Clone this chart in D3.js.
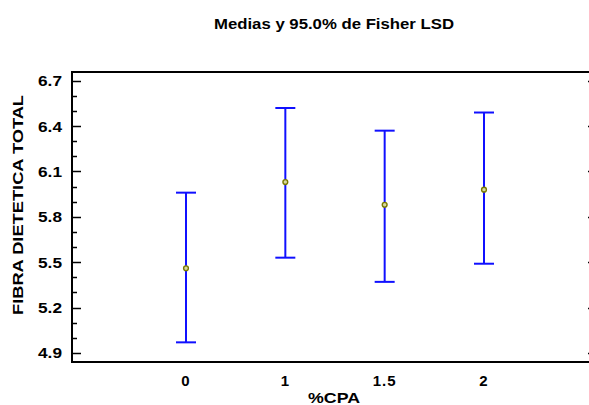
<!DOCTYPE html>
<html>
<head>
<meta charset="utf-8">
<script src="https://cdn.jsdelivr.net/npm/d3@7"></script>
<style>
  body { margin: 0; background: #fff; }
  text { font-family: "Liberation Sans", Arial, sans-serif; font-weight: bold; fill: #000; }
</style>
</head>
<body>
<svg width="589" height="405"></svg>
<script>
// data
var categories = ["0", "1", "1.5", "2"];
var means = [5.46, 6.03, 5.88, 5.98];
var lower = [4.97, 5.53, 5.37, 5.49];
var upper = [5.96, 6.52, 6.37, 6.49];
var yTicks = [4.9, 5.2, 5.5, 5.8, 6.1, 6.4, 6.7];

const svg = d3.select('svg');

var plotLeft = 72, plotRight = 597, plotTop = 72, plotBottom = 362;

var x = d3.scalePoint()
    .domain(categories)
    .range([186, 484]);

var y = d3.scaleLinear()
    .domain([4.84, 6.758])
    .range([plotBottom, plotTop]);

// title
svg.append("text")
    .attr("x", 334)
    .attr("y", 29)
    .attr("text-anchor", "middle")
    .attr("textLength", 240)
    .attr("lengthAdjust", "spacingAndGlyphs")
    .style("font-size", "15px")
    .text("Medias y 95.0% de Fisher LSD");

// minor ticks every 0.1
var minor = d3.range(49, 68).map(function(d){ return d / 10; });
function isMajor(d){ return yTicks.some(function(t){ return Math.abs(t-d) < 1e-6; }); }

// left axis
svg.append("g")
    .selectAll("line")
    .data(minor)
    .enter()
    .append("line")
    .attr("x1", plotLeft)
    .attr("x2", function(d){ return isMajor(d) ? plotLeft + 9 : plotLeft + 5; })
    .attr("y1", function(d){ return Math.round(y(d)) + 0.5; })
    .attr("y2", function(d){ return Math.round(y(d)) + 0.5; })
    .attr("stroke", "#000")
    .attr("stroke-width", 1.5);

// right axis (mostly off the window)
svg.append("g")
    .selectAll("line")
    .data(minor)
    .enter()
    .append("line")
    .attr("x1", plotRight)
    .attr("x2", function(d){ return isMajor(d) ? plotRight - 9 : plotRight - 5; })
    .attr("y1", function(d){ return Math.round(y(d)) + 0.5; })
    .attr("y2", function(d){ return Math.round(y(d)) + 0.5; })
    .attr("stroke", "#000")
    .attr("stroke-width", 1.5);

// tick labels
svg.append("g")
    .selectAll("text")
    .data(yTicks)
    .enter()
    .append("text")
    .attr("x", 62)
    .attr("y", function(d){ return y(d) + 5.5; })
    .attr("text-anchor", "end")
    .attr("textLength", 24)
    .attr("lengthAdjust", "spacingAndGlyphs")
    .style("font-size", "15px")
    .text(function(d){ return d3.format(".1f")(d); });

// frame
svg.append("path")
    .attr("d", "M" + plotRight + "," + plotTop + "H" + plotLeft + "V" + plotBottom + "H" + plotRight)
    .attr("fill", "none")
    .attr("stroke", "#000")
    .attr("stroke-width", 2);

// x labels
svg.append("g")
    .selectAll("text")
    .data(categories)
    .enter()
    .append("text")
    .attr("x", function(d){ return x(d); })
    .attr("y", 386)
    .attr("text-anchor", "middle")
    .style("font-size", "15px")
    .style("letter-spacing", "1px")
    .text(function(d){ return d; });

svg.append("text")
    .attr("x", 334)
    .attr("y", 403)
    .attr("text-anchor", "middle")
    .attr("textLength", 52)
    .attr("lengthAdjust", "spacingAndGlyphs")
    .style("font-size", "15px")
    .text("%CPA");

svg.append("text")
    .attr("transform", "translate(23,205) rotate(-90)")
    .attr("text-anchor", "middle")
    .attr("textLength", 220)
    .attr("lengthAdjust", "spacingAndGlyphs")
    .style("font-size", "15px")
    .text("FIBRA DIETETICA TOTAL");

// error bars
var bars = svg.append("g")
    .selectAll("g")
    .data(categories)
    .enter()
    .append("g")
    .attr("stroke", "#1010ff")
    .attr("stroke-width", 2);

bars.append("line")
    .attr("x1", function(d){ return x(d); })
    .attr("x2", function(d){ return x(d); })
    .attr("y1", function(d,i){ return y(upper[i]); })
    .attr("y2", function(d,i){ return y(lower[i]); });

bars.append("line")
    .attr("x1", function(d){ return x(d) - 10; })
    .attr("x2", function(d){ return x(d) + 10; })
    .attr("y1", function(d,i){ return y(upper[i]); })
    .attr("y2", function(d,i){ return y(upper[i]); });

bars.append("line")
    .attr("x1", function(d){ return x(d) - 10; })
    .attr("x2", function(d){ return x(d) + 10; })
    .attr("y1", function(d,i){ return y(lower[i]); })
    .attr("y2", function(d,i){ return y(lower[i]); });

// means (hollow olive rings)
svg.append("g")
    .selectAll("circle")
    .data(categories)
    .enter()
    .append("circle")
    .attr("cx", function(d){ return x(d); })
    .attr("cy", function(d,i){ return y(means[i]); })
    .attr("r", 2.4)
    .attr("fill", "#d8d8a0")
    .attr("stroke", "#7a7a00")
    .attr("stroke-width", 1.4);
</script>
</body>
</html>
